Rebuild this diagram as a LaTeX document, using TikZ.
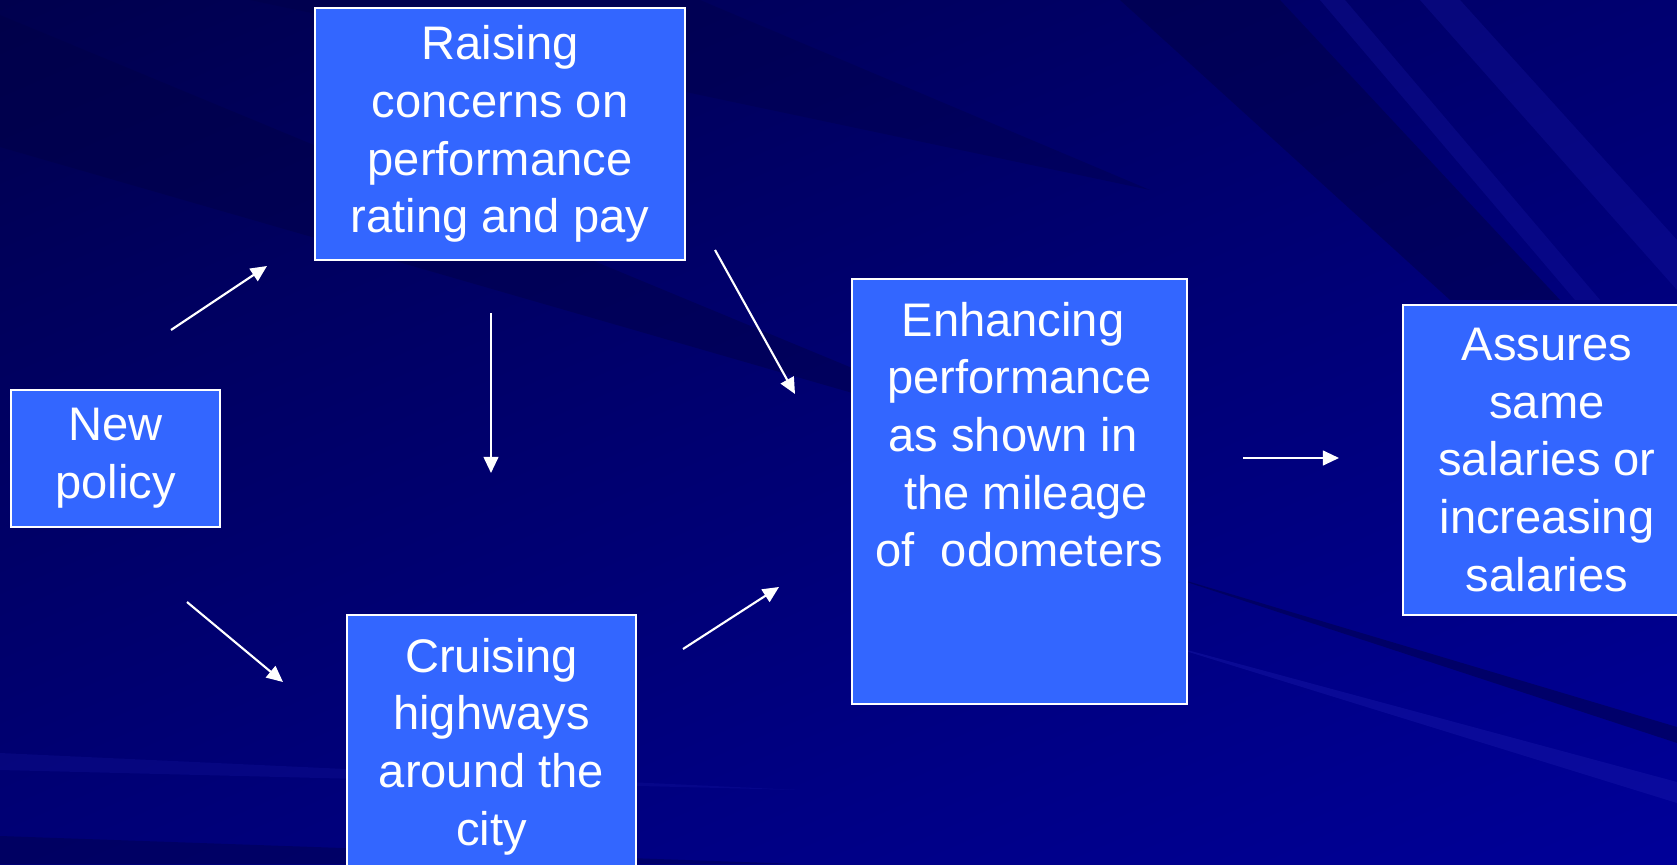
\documentclass[tikz,border=0pt]{standalone}
\usepackage{fontspec}
\setmainfont{Liberation Sans}
\usetikzlibrary{arrows.meta, shadings}

\definecolor{boxblue}{RGB}{51,102,255}
\definecolor{bgtl}{RGB}{0,0,78}
\definecolor{bgtr}{RGB}{0,0,112}
\definecolor{bgbl}{RGB}{0,0,118}
\definecolor{bgbr}{RGB}{0,0,152}
\definecolor{streaklight}{RGB}{30,30,175}
\definecolor{streakdark}{RGB}{0,0,70}
\newcommand{\boxfont}{\fontsize{13.4}{16.4}\selectfont}

\begin{document}
\begin{tikzpicture}[x=0.01cm, y=-0.01cm,
    stepbox/.style={rectangle, draw=white, line width=0.6pt, fill=boxblue, text=white, align=center, font=\boxfont, inner sep=0pt},
    flow/.style={white, line width=0.6pt, -{Triangle[length=4.6pt,width=4.2pt]}}]

    % background
    \useasboundingbox (0,0) rectangle (1677,864);
    \clip (0,0) rectangle (1677,864);
    \shade[upper left=bgtl, upper right=bgtr, lower left=bgbl, lower right=bgbr] (0,0) rectangle (1677,864);
    \fill[streakdark, opacity=0.45] (0,15) -- (1050,450) -- (0,147) -- cycle;
    \fill[streakdark, opacity=0.35] (250,0) -- (700,0) -- (1150,190) -- cycle;
    \fill[streakdark, opacity=0.5] (1120,0) -- (1280,0) -- (1560,300) -- (1450,300) -- cycle;
    \fill[streaklight, opacity=0.25] (1320,0) -- (1345,0) -- (1600,300) -- (1575,300) -- cycle;
    \fill[streaklight, opacity=0.25] (1420,0) -- (1460,0) -- (1677,240) -- (1677,290) -- cycle;
    \fill[streakdark, opacity=0.5] (1150,570) -- (1677,727) -- (1677,743) -- cycle;
    \fill[streaklight, opacity=0.35] (1150,640) -- (1677,782) -- (1677,803) -- cycle;
    \fill[streaklight, opacity=0.2] (0,753) -- (0,770) -- (800,790) -- cycle;
    \fill[streakdark, opacity=0.4] (0,836) -- (800,864) -- (0,864) -- cycle;

    % boxes
    \node (newpol) [stepbox, minimum width=2.09cm, minimum height=1.37cm] at (115.5,458.5) {New\\policy};
    \node (raise) [stepbox, minimum width=3.70cm, minimum height=2.52cm] at (500,134) {Raising\\concerns on\\performance\\rating and pay};
    \node (cruise) [stepbox, minimum width=2.89cm, minimum height=2.63cm] at (491.5,746.5) {Cruising\\highways\\around the\\city};
    \node (enhance) [stepbox, minimum width=3.35cm, minimum height=4.25cm] at (1019.5,491.5) {Enhancing\ \mbox{}\\performance\\as shown in\ \mbox{}\\\mbox{}\ the mileage\\of\ \ odometers\rule[-1.14cm]{0pt}{1.14cm}};
    \node (assure) [stepbox, minimum width=2.88cm, minimum height=3.10cm] at (1547,460) {Assures\\same\\salaries or\\increasing\\salaries};

    % arrow ends
    \coordinate (npraiseA) at (171,330);
    \coordinate (npraiseB) at (267,266);
    \coordinate (npcruiseA) at (187,602);
    \coordinate (npcruiseB) at (283,682);
    \coordinate (downA) at (491,313);
    \coordinate (downB) at (491,473);
    \coordinate (raiseenhA) at (715,250);
    \coordinate (raiseenhB) at (795,394);
    \coordinate (cruiseenhA) at (683,649);
    \coordinate (cruiseenhB) at (779,587);
    \coordinate (enhassA) at (1243,458);
    \coordinate (enhassB) at (1339,458);

    \draw [flow] (npraiseA) -- (npraiseB);
    \draw [flow] (npcruiseA) -- (npcruiseB);
    \draw [flow] (downA) -- (downB);
    \draw [flow] (raiseenhA) -- (raiseenhB);
    \draw [flow] (cruiseenhA) -- (cruiseenhB);
    \draw [flow] (enhassA) -- (enhassB);
\end{tikzpicture}
\end{document}
